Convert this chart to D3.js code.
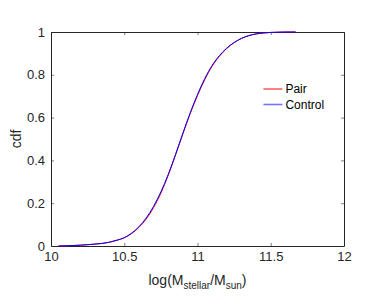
<!DOCTYPE html>
<html>
<head>
<meta charset="utf-8">
<script src="https://cdn.jsdelivr.net/npm/d3@7"></script>
<style>
  body { margin: 0; background: #fff; }
  svg { font-family: "Liberation Sans", Arial, sans-serif; }
</style>
</head>
<body>
<div id="chart"></div>
<script>
// cdf of stellar mass, pair vs control
var massX = [10.05, 10.1, 10.15, 10.2, 10.25, 10.3, 10.35, 10.4, 10.45, 10.5, 10.55, 10.6,
  10.65, 10.7, 10.75, 10.8, 10.85, 10.9, 10.95, 11.0, 11.05, 11.1, 11.15, 11.2, 11.25,
  11.3, 11.35, 11.4, 11.45, 11.5, 11.55, 11.6, 11.67];
var pairCdf = [0, 0.001, 0.002, 0.004, 0.006, 0.009, 0.012, 0.018, 0.027, 0.038, 0.058, 0.087,
  0.126, 0.179, 0.247, 0.330, 0.425, 0.523, 0.618, 0.703, 0.778, 0.840, 0.887, 0.923, 0.950,
  0.970, 0.983, 0.991, 0.9955, 0.998, 0.999, 1, 1];
var controlCdf = [0, 0.001, 0.002, 0.004, 0.006, 0.009, 0.012, 0.018, 0.027, 0.039, 0.060, 0.090,
  0.131, 0.185, 0.253, 0.334, 0.428, 0.527, 0.622, 0.708, 0.783, 0.844, 0.890, 0.925, 0.951,
  0.970, 0.983, 0.991, 0.9955, 0.998, 0.999, 1, 1];
var xTicks = [10, 10.5, 11, 11.5, 12];
var yTicks = [0, 0.2, 0.4, 0.6, 0.8, 1];
var seriesNames = ["Pair", "Control"];
var seriesColors = ["#ff0000", "#0000ff"];

var margin = {top: 32, right: 38, bottom: 59, left: 51},
  width = 382 - margin.left - margin.right,
  height = 305 - margin.top - margin.bottom;

var svg = d3.select("#chart")
  .append("svg")
    .attr("width", 382)
    .attr("height", 305)
  .append("g")
    .attr("transform", "translate(" + margin.left + "," + margin.top + ")");

var x = d3.scaleLinear().domain([10, 12]).range([0, width]);
var y = d3.scaleLinear().domain([0, 1]).range([height, 0]);

var axisColor = "#262626";

// axes with inward ticks, box on all four sides
function styleAxis(g) {
  g.select(".domain").attr("stroke", axisColor).attr("stroke-width", 1);
  g.selectAll(".tick line").attr("stroke", axisColor).attr("stroke-width", 0.6);
  g.selectAll("text").attr("fill", axisColor).style("font-size", "13px");
}

svg.append("g")
  .attr("transform", "translate(0," + height + ")")
  .call(d3.axisBottom(x).tickValues(xTicks).tickFormat(d3.format("")).tickSizeInner(-3).tickSizeOuter(0).tickPadding(6))
  .call(styleAxis);

svg.append("g")
  .call(d3.axisTop(x).tickValues(xTicks).tickFormat("").tickSizeInner(-3).tickSizeOuter(0))
  .call(styleAxis);

svg.append("g")
  .call(d3.axisLeft(y).tickValues(yTicks).tickFormat(d3.format("")).tickSizeInner(-3).tickSizeOuter(0).tickPadding(6))
  .call(styleAxis);

svg.append("g")
  .attr("transform", "translate(" + width + ",0)")
  .call(d3.axisRight(y).tickValues(yTicks).tickFormat("").tickSizeInner(-3).tickSizeOuter(0))
  .call(styleAxis);

// curves
var line = d3.line()
  .x(function(d) { return x(d[0]); })
  .y(function(d) { return y(d[1]); })
  .curve(d3.curveMonotoneX);

var allSeries = [pairCdf, controlCdf];
allSeries.forEach(function(vals, i) {
  svg.append("path")
    .datum(massX.map(function(m, k) { return [m, vals[k]]; }))
    .attr("fill", "none")
    .attr("stroke", seriesColors[i])
    .attr("stroke-width", 1)
    .attr("d", line);
});

// legend
var legend = svg.append("g").attr("transform", "translate(" + x(11.45) + ",57)");
seriesNames.forEach(function(name, i) {
  var row = legend.append("g").attr("transform", "translate(0," + (i * 15.5) + ")");
  row.append("line")
    .attr("x1", 0).attr("x2", 19)
    .attr("stroke", seriesColors[i])
    .attr("stroke-opacity", i == 1 ? 0.55 : 1)
    .attr("stroke-width", i == 1 ? 1.6 : 1);
  row.append("text")
    .attr("x", 22).attr("dy", "0.35em")
    .attr("fill", "#000")
    .style("font-size", "12px")
    .text(name);
});

// axis titles
var xt = svg.append("text")
  .attr("x", width / 2)
  .attr("y", height + 39)
  .attr("text-anchor", "middle")
  .attr("fill", axisColor)
  .style("font-size", "14px");
xt.append("tspan").text("log(M");
xt.append("tspan").attr("dy", 4).style("font-size", "10px").text("stellar");
xt.append("tspan").attr("dy", -4).text("/M");
xt.append("tspan").attr("dy", 4).style("font-size", "10px").text("sun");
xt.append("tspan").attr("dy", -4).text(")");

svg.append("text")
  .attr("transform", "translate(" + (-30) + "," + (height / 2) + ") rotate(-90)")
  .attr("text-anchor", "middle")
  .attr("fill", axisColor)
  .style("font-size", "14px")
  .text("cdf");
</script>
</body>
</html>
